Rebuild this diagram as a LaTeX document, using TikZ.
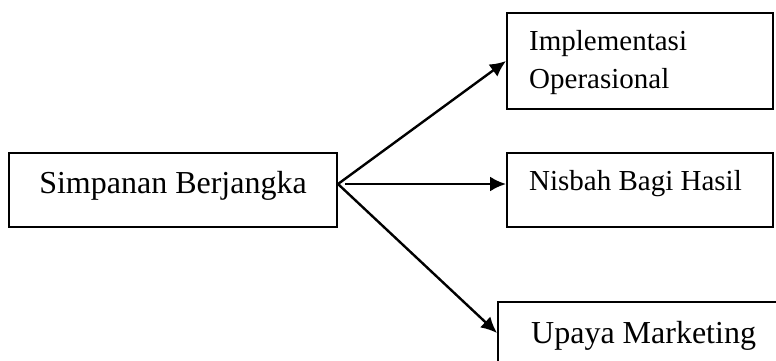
\documentclass[tikz,border=0pt]{standalone}
\usepackage{fontspec}
\setmainfont{Liberation Serif}
\usetikzlibrary{arrows.meta,calc}
\tikzset{
	kotak/.style={draw, line width=2pt, inner sep=0pt},
	panah/.style={-{Latex[length=16pt,width=15pt]}, line width=2.4pt},
	besar/.style={font=\fontsize{32}{38}\selectfont, inner sep=0pt},
	kecil/.style={font=\fontsize{29}{38}\selectfont, inner sep=0pt, align=left},
}
\begin{document}
\begin{tikzpicture}[x=1pt,y=-1pt]
		\useasboundingbox (0,0) rectangle (776,360);
		\clip (0,0) rectangle (776,360);
		\node[kotak, minimum width=328, minimum height=74] (simpanan) at (173,190) {};
		\node[kotak, minimum width=266, minimum height=96] (implementasi) at (640,61) {};
		\node[kotak, minimum width=266, minimum height=74] (nisbah) at (640,190) {};
		\node[kotak, minimum width=292, minimum height=62] (upaya) at (644,333) {};
		
		\node[besar, anchor=base] (simpanan-t) at (173,193) {Simpanan Berjangka};
		\node[kecil, anchor=base west] (implementasi-t) at (529,88) {Implementasi\\Operasional};
		\node[kecil, anchor=base west] (nisbah-t) at (529,190) {Nisbah Bagi Hasil};
		\node[besar, anchor=base west] (upaya-t) at (531,343) {Upaya Marketing};
		
		\coordinate (cabang) at ($(simpanan.east)+(0,-6)$);
		\draw[panah] (cabang) -- (implementasi.west);
		\draw[panah, shorten <=7pt] (cabang) -- (nisbah.west |- cabang);
		\draw[panah] (cabang) -- (upaya.west);
\end{tikzpicture}
\end{document}
